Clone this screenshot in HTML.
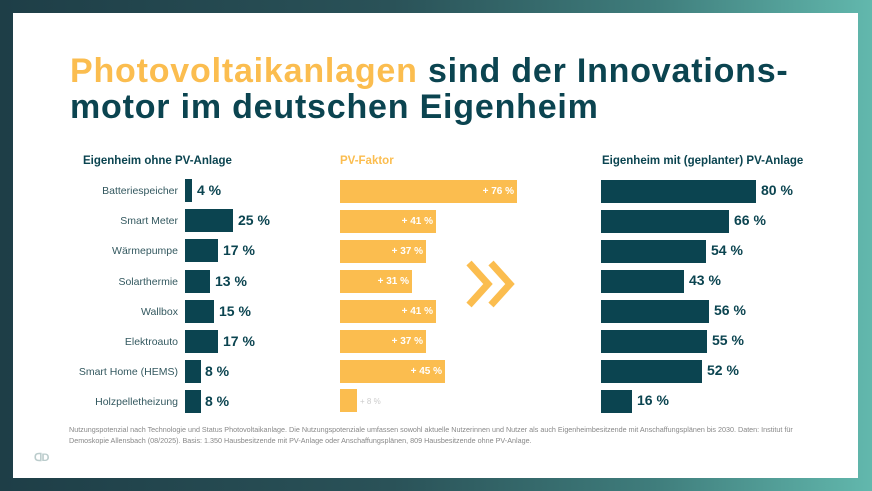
<!DOCTYPE html>
<html><head><meta charset="utf-8"><style>
*{margin:0;padding:0;box-sizing:border-box}
body{width:872px;height:491px;overflow:hidden;background:linear-gradient(90deg,#1e3e47 0%,#2a5258 45%,#3f7d7c 75%,#62b8ad 100%);font-family:"Liberation Sans",sans-serif;position:relative}
.card{position:absolute;left:13px;top:13px;width:845px;height:465px;background:#fff}
.t{position:absolute;left:70px;font-weight:bold;font-size:34px;letter-spacing:0.8px;color:#0b4450;white-space:nowrap}
.h{position:absolute;top:155px;font-size:11.5px;font-weight:bold;color:#0b4450;white-space:nowrap}
.lab{position:absolute;width:178px;text-align:right;font-size:10.5px;color:#33585f;white-space:nowrap}
.b{position:absolute;height:23px}
.d{background:#0b4450}
.o{background:#fbbd4f}
.v{position:absolute;font-size:14px;color:#0b4450;font-weight:bold;white-space:nowrap}
.ov{position:absolute;font-size:10px;color:#fff;font-weight:bold;white-space:nowrap;text-align:right}
.fn{position:absolute;left:69px;top:424px;font-size:7.2px;color:#888;line-height:11px;width:740px}
</style></head><body>
<div class="card"></div>
<div class="t" style="top:52px"><span style="color:#fbbd4f">Photovoltaikanlagen</span> sind der Innovations-</div>
<div class="t" style="top:88px">motor im deutschen Eigenheim</div>
<div class="h" style="left:83px">Eigenheim ohne PV-Anlage</div>
<div class="h" style="left:340px;color:#fbbd4f">PV-Faktor</div>
<div class="h" style="left:602px">Eigenheim mit (geplanter) PV-Anlage</div>

<div class="lab" style="left:0;top:185px">Batteriespeicher</div>
<div class="lab" style="left:0;top:215px">Smart Meter</div>
<div class="lab" style="left:0;top:245px">Wärmepumpe</div>
<div class="lab" style="left:0;top:276px">Solarthermie</div>
<div class="lab" style="left:0;top:306px">Wallbox</div>
<div class="lab" style="left:0;top:336px">Elektroauto</div>
<div class="lab" style="left:0;top:366px">Smart Home (HEMS)</div>
<div class="lab" style="left:0;top:396px">Holzpelletheizung</div>

<div class="b d" style="left:185px;top:179px;width:7px"></div><div class="v" style="left:197px;top:182px">4 %</div>
<div class="b d" style="left:185px;top:209px;width:48px"></div><div class="v" style="left:238px;top:212px">25 %</div>
<div class="b d" style="left:185px;top:239px;width:33px"></div><div class="v" style="left:223px;top:242px">17 %</div>
<div class="b d" style="left:185px;top:270px;width:25px"></div><div class="v" style="left:215px;top:273px">13 %</div>
<div class="b d" style="left:185px;top:300px;width:29px"></div><div class="v" style="left:219px;top:303px">15 %</div>
<div class="b d" style="left:185px;top:330px;width:33px"></div><div class="v" style="left:223px;top:333px">17 %</div>
<div class="b d" style="left:185px;top:360px;width:16px"></div><div class="v" style="left:205px;top:363px">8 %</div>
<div class="b d" style="left:185px;top:390px;width:16px"></div><div class="v" style="left:205px;top:393px">8 %</div>

<div class="b o" style="left:340px;top:180px;width:177px"></div><div class="ov" style="left:440px;width:74px;top:186px">+ 76 %</div>
<div class="b o" style="left:340px;top:210px;width:96px"></div><div class="ov" style="left:360px;width:73px;top:216px">+ 41 %</div>
<div class="b o" style="left:340px;top:240px;width:86px"></div><div class="ov" style="left:350px;width:73px;top:246px">+ 37 %</div>
<div class="b o" style="left:340px;top:270px;width:72px"></div><div class="ov" style="left:336px;width:73px;top:276px">+ 31 %</div>
<div class="b o" style="left:340px;top:300px;width:96px"></div><div class="ov" style="left:360px;width:73px;top:306px">+ 41 %</div>
<div class="b o" style="left:340px;top:330px;width:86px"></div><div class="ov" style="left:350px;width:73px;top:336px">+ 37 %</div>
<div class="b o" style="left:340px;top:360px;width:105px"></div><div class="ov" style="left:369px;width:73px;top:366px">+ 45 %</div>
<div class="b o" style="left:340px;top:389px;width:17px"></div><div class="ov" style="left:360px;top:397px;color:#ccc;font-weight:normal;font-size:8px">+ 8 %</div>

<svg style="position:absolute;left:466px;top:260px" width="52" height="48" viewBox="0 0 52 48"><polyline points="3,3 22,24 3,45" fill="none" stroke="#fbbd4f" stroke-width="7"/><polyline points="25,3 44,24 25,45" fill="none" stroke="#fbbd4f" stroke-width="7"/></svg>

<div class="b d" style="left:601px;top:180px;width:155px"></div><div class="v" style="left:761px;top:182px">80 %</div>
<div class="b d" style="left:601px;top:210px;width:128px"></div><div class="v" style="left:734px;top:212px">66 %</div>
<div class="b d" style="left:601px;top:240px;width:105px"></div><div class="v" style="left:711px;top:242px">54 %</div>
<div class="b d" style="left:601px;top:270px;width:83px"></div><div class="v" style="left:689px;top:272px">43 %</div>
<div class="b d" style="left:601px;top:300px;width:108px"></div><div class="v" style="left:714px;top:302px">56 %</div>
<div class="b d" style="left:601px;top:330px;width:106px"></div><div class="v" style="left:712px;top:332px">55 %</div>
<div class="b d" style="left:601px;top:360px;width:101px"></div><div class="v" style="left:707px;top:362px">52 %</div>
<div class="b d" style="left:601px;top:390px;width:31px"></div><div class="v" style="left:637px;top:392px">16 %</div>

<div class="fn">Nutzungspotenzial nach Technologie und Status Photovoltaikanlage. Die Nutzungspotenziale umfassen sowohl aktuelle Nutzerinnen und Nutzer als auch Eigenheimbesitzende mit Anschaffungsplänen bis 2030. Daten: Institut für Demoskopie Allensbach (08/2025). Basis: 1.350 Hausbesitzende mit PV-Anlage oder Anschaffungsplänen, 809 Hausbesitzende ohne PV-Anlage.</div>
<div style="position:absolute;left:34px;top:451px;font-size:11px;color:#bcc;font-weight:bold;letter-spacing:-1px">ᗡD</div>
</body></html>
